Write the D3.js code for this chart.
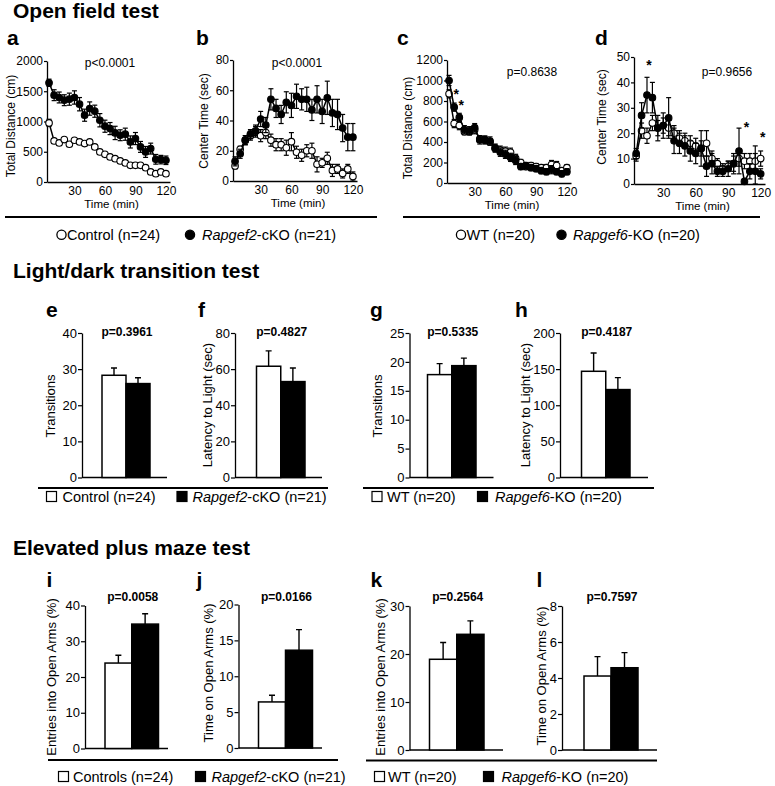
<!DOCTYPE html>
<html>
<head>
<meta charset="utf-8">
<script src="https://cdn.jsdelivr.net/npm/d3@7"></script>
<style>
body { margin: 0; background: #fff; }
svg text { font-family: "Liberation Sans", Arial, Helvetica, sans-serif; fill: #000; }
</style>
</head>
<body>
<svg id="fig" width="775" height="786"></svg>
<script>
// Time bins (min)
var timeBins = [5, 10, 15, 20, 25, 30, 35, 40, 45, 50, 55, 60, 65, 70, 75, 80, 85, 90, 95, 100, 105, 110, 115, 120];

// a - total distance, Rapgef2
var distCtrl    = [977, 679, 646, 701, 624, 690, 662, 635, 662, 580, 497, 458, 414, 386, 348, 315, 276, 276, 276, 237, 166, 138, 166, 138];
var distCtrlErr = [60, 30, 30, 30, 30, 30, 40, 30, 30, 30, 30, 30, 30, 30, 30, 30, 30, 30, 30, 30, 30, 30, 30, 30];
var distCko     = [1640, 1435, 1397, 1352, 1369, 1397, 1286, 1104, 1214, 1170, 1021, 922, 883, 811, 773, 790, 662, 718, 580, 497, 552, 375, 370, 359];
var distCkoErr  = [60, 90, 90, 90, 100, 110, 110, 100, 110, 100, 110, 100, 100, 110, 90, 100, 100, 100, 90, 90, 90, 80, 70, 70];

// b - center time, Rapgef2
var ctrCtrl    = [10, 21, 27, 30, 33, 30, 32, 27, 24, 24, 22, 26, 19, 17, 20, 20, 11, 12, 15, 7, 8, 5, 8, 3];
var ctrCtrlErr = [2, 2, 3, 3, 3, 4, 4, 4, 4, 4, 5, 6, 4, 4, 4, 5, 5, 3, 4, 4, 3, 3, 3, 3];
var ctrCko     = [13, 18, 27, 31, 33, 41, 37, 54, 48, 44, 52, 50, 56, 54, 54, 47, 54, 46, 55, 45, 44, 35, 29, 29];
var ctrCkoErr  = [3, 3, 3, 3, 4, 5, 5, 7, 6, 6, 7, 8, 8, 7, 8, 7, 9, 8, 11, 9, 10, 9, 9, 9];

// c - total distance, Rapgef6
var distWt     = [870, 580, 560, 500, 500, 520, 430, 420, 400, 340, 320, 310, 300, 240, 200, 160, 170, 160, 150, 150, 180, 170, 120, 150];
var distWtErr  = [40, 40, 40, 30, 30, 40, 30, 30, 30, 30, 40, 40, 40, 40, 30, 30, 30, 30, 30, 30, 40, 40, 30, 30];
var distKo     = [1000, 740, 640, 520, 510, 540, 420, 420, 410, 340, 300, 280, 250, 220, 160, 170, 150, 140, 120, 110, 130, 110, 90, 110];
var distKoErr  = [50, 40, 40, 40, 40, 40, 40, 40, 40, 40, 40, 40, 40, 40, 30, 30, 30, 30, 30, 30, 40, 30, 30, 30];

// d - center time, Rapgef6
var ctrWt     = [11, 21, 19, 24, 22, 23, 22, 20, 18, 17, 16, 15, 14, 16, 10, 8, 6, 7, 8, 10, 9, 9, 9, 10];
var ctrWtErr  = [2, 3, 3, 3, 3, 3, 3, 3, 3, 3, 3, 3, 3, 5, 3, 2, 2, 2, 3, 3, 3, 3, 3, 3];
var ctrKo     = [12, 27, 35, 34, 22, 23, 26, 17, 16, 15, 13, 12, 14, 7, 8, 5, 5, 6, 8, 13, 1, 5, 5, 4];
var ctrKoErr  = [2, 5, 7, 6, 5, 5, 8, 5, 4, 4, 4, 4, 7, 4, 4, 2, 2, 3, 4, 9, 1, 3, 10, 2];

// significance stars [time, value]
var starsC = [[10, 900], [15, 790]];
var starsD = [[15, 48], [105, 23.5], [120, 19.5]];

// bar panels: [control/WT, cKO/KO]
var transF2 = [28.3, 26.0],   transF2Err = [2.0, 1.6];
var latF2 = [61.6, 53.1],     latF2Err = [8.5, 7.5];
var transF6 = [17.8, 19.35],  transF6Err = [1.9, 1.3];
var latF6 = [147, 121.7],     latF6Err = [25.4, 16.5];
var entF2 = [23.9, 34.8],     entF2Err = [2.2, 2.9];
var timeF2 = [6.42, 13.63],   timeF2Err = [0.93, 2.87];
var entF6 = [18.9, 24.1],     entF6Err = [3.5, 2.8];
var timeF6 = [4.11, 4.57],    timeF6Err = [1.08, 0.84];

var xTicks = [30, 60, 90, 120];
var pValues = ["p<0.0001", "p<0.0001", "p=0.8638", "p=0.9656",
               "p=0.3961", "p=0.4827", "p=0.5335", "p=0.4187",
               "p=0.0058", "p=0.0166", "p=0.2564", "p=0.7597"];
var sectionTitles = ["Open field test", "Light/dark transition test", "Elevated plus maze test"];

var svg = d3.select("#fig");
var fontFam = '"Liberation Sans", Arial, Helvetica, sans-serif';

function styleAxis(ax, size) {
	ax.attr("font-size", size).attr("font-family", fontFam);
	ax.select(".domain").attr("stroke-width", 1.3);
	ax.selectAll(".tick line").attr("stroke-width", 1.2);
}

function yTitle(txt, cx, cy, size) {
	svg.append("text")
		.attr("transform", "translate(" + (cx + size * 0.36) + "," + cy + ") rotate(-90)")
		.attr("text-anchor", "middle")
		.attr("font-size", size)
		.text(txt);
}

function letter(txt, x, y) {
	svg.append("text").attr("x", x).attr("y", y)
		.attr("font-size", 21).attr("font-weight", "bold").text(txt);
}

// Line panel (open field)
function linePanel(c) {
	var x = d3.scaleLinear().domain([3, 124]).range([c.left, c.right]);
	var y = d3.scaleLinear().domain([0, c.yMax]).range([c.bottom, c.top]);
	var g = svg.append("g");

	var xAxisG = g.append("g").attr("transform", "translate(0," + c.bottom + ")")
		.call(d3.axisBottom(x).tickValues(xTicks).tickSize(0).tickSizeOuter(0).tickPadding(4));
	var yAxisG = g.append("g").attr("transform", "translate(" + c.left + ",0)")
		.call(d3.axisLeft(y).tickValues(c.yTicks).tickFormat(d3.format("d")).tickSize(3).tickSizeOuter(0).tickPadding(1));
	styleAxis(xAxisG, 12);
	styleAxis(yAxisG, 12);

	var series = [
		{ v: c.open, e: c.openErr, fill: "#fff" },
		{ v: c.closed, e: c.closedErr, fill: "#000" }
	];
	series.forEach(function(s) {
		var pts = timeBins.map(function(t, i) { return { t: t, v: s.v[i], e: s.e[i] }; });
		var eb = g.append("g").attr("stroke", "#000").attr("stroke-width", 1.2);
		eb.selectAll(".v").data(pts).enter().append("line")
			.attr("x1", function(d) { return x(d.t); })
			.attr("x2", function(d) { return x(d.t); })
			.attr("y1", function(d) { return y(Math.max(0, d.v - d.e)); })
			.attr("y2", function(d) { return y(d.v + d.e); });
		eb.selectAll(".ct").data(pts).enter().append("line")
			.attr("x1", function(d) { return x(d.t) - 2.5; })
			.attr("x2", function(d) { return x(d.t) + 2.5; })
			.attr("y1", function(d) { return y(d.v + d.e); })
			.attr("y2", function(d) { return y(d.v + d.e); });
		eb.selectAll(".cb").data(pts).enter().append("line")
			.attr("x1", function(d) { return x(d.t) - 2.5; })
			.attr("x2", function(d) { return x(d.t) + 2.5; })
			.attr("y1", function(d) { return y(Math.max(0, d.v - d.e)); })
			.attr("y2", function(d) { return y(Math.max(0, d.v - d.e)); });
		g.append("path").datum(pts)
			.attr("fill", "none").attr("stroke", "#000").attr("stroke-width", 1.5)
			.attr("d", d3.line().x(function(d) { return x(d.t); }).y(function(d) { return y(d.v); }));
		g.append("g").selectAll("circle").data(pts).enter().append("circle")
			.attr("cx", function(d) { return x(d.t); })
			.attr("cy", function(d) { return y(d.v); })
			.attr("r", 3.3)
			.attr("fill", s.fill).attr("stroke", "#000").attr("stroke-width", 1.1);
	});

	(c.stars || []).forEach(function(st) {
		g.append("text").attr("x", x(st[0]) + 2).attr("y", y(st[1]) + 8)
			.attr("text-anchor", "middle").attr("font-size", 14).attr("font-weight", "bold").text("*");
	});

	g.append("text").attr("x", c.pX).attr("y", c.pY).attr("text-anchor", "middle")
		.attr("font-size", 12).text(c.p);
	g.append("text").attr("x", (c.left + c.right) / 2 + 3).attr("y", c.bottom + 26).attr("text-anchor", "middle")
		.attr("font-size", 11.5).text("Time (min)");
	yTitle(c.yLabel, c.yLabelX, c.yLabelY, 12);
}

// Bar panel
function barPanel(c) {
	var y = d3.scaleLinear().domain([0, c.yMax]).range([c.bottom, c.top]);
	var xb = d3.scaleBand().domain([0, 1]).range([c.barL, c.barR]).paddingInner(0).paddingOuter(0);
	var g = svg.append("g");

	var yAxisG = g.append("g").attr("transform", "translate(" + c.left + ",0)")
		.call(d3.axisLeft(y).tickValues(c.yTicks).tickSize(4).tickSizeOuter(0).tickPadding(1));
	styleAxis(yAxisG, 13);
	g.append("line").attr("x1", c.left).attr("x2", c.right)
		.attr("y1", y(0)).attr("y2", y(0))
		.attr("stroke", "#000").attr("stroke-width", 1.3);

	var bars = c.vals.map(function(v, i) { return { i: i, v: v, e: c.errs[i] }; });
	g.selectAll(".err").data(bars).enter().append("path")
		.attr("fill", "none").attr("stroke", "#000").attr("stroke-width", 1.4)
		.attr("d", function(d) {
			var cx = xb(d.i) + xb.bandwidth() / 2;
			return "M" + cx + "," + y(d.v) + "V" + y(d.v + d.e) + "M" + (cx - 3) + "," + y(d.v + d.e) + "H" + (cx + 3);
		});
	g.selectAll("rect").data(bars).enter().append("rect")
		.attr("x", function(d) { return xb(d.i); })
		.attr("y", function(d) { return y(d.v); })
		.attr("width", xb.bandwidth())
		.attr("height", function(d) { return y(0) - y(d.v); })
		.attr("fill", function(d) { return d.i === 0 ? "#fff" : "#000"; })
		.attr("stroke", "#000").attr("stroke-width", 1.5);

	g.append("text").attr("x", (c.barL + c.barR) / 2 + 1).attr("y", c.pY).attr("text-anchor", "middle")
		.attr("font-size", 12).attr("font-weight", "bold").text(c.p);
	yTitle(c.yLabel, c.yLabelX, c.yLabelY, 13);
}

// Legends
function legend(items, baseline, shape) {
	items.forEach(function(it) {
		if (shape === "circle") {
			svg.append("circle").attr("cx", it.mx).attr("cy", baseline - 5.2).attr("r", 4.6)
				.attr("fill", it.fill).attr("stroke", "#000").attr("stroke-width", 1.3);
		} else {
			svg.append("rect").attr("x", it.mx).attr("y", baseline - 10.5).attr("width", 10).attr("height", 10)
				.attr("fill", it.fill).attr("stroke", "#000").attr("stroke-width", 1.2);
		}
		var t = svg.append("text").attr("x", it.tx).attr("y", baseline).attr("font-size", 14.5);
		if (it.gene) t.append("tspan").attr("font-style", "italic").text(it.gene);
		t.append("tspan").text(it.rest);
	});
}

function rule(x1, x2, yy) {
	svg.append("line").attr("x1", x1).attr("x2", x2).attr("y1", yy).attr("y2", yy)
		.attr("stroke", "#000").attr("stroke-width", 2);
}

// Section titles
[[18, 0], [278, 1], [555, 2]].forEach(function(s) {
	svg.append("text").attr("x", 13).attr("y", s[0]).attr("font-size", 21)
		.attr("font-weight", "bold").text(sectionTitles[s[1]]);
});

// Row 1
letter("a", 7, 45); letter("b", 196, 45); letter("c", 397, 45); letter("d", 595, 45);
linePanel({ left: 47, right: 170, top: 61, bottom: 182, yMax: 2000, yTicks: [0, 500, 1000, 1500, 2000],
	open: distCtrl, openErr: distCtrlErr, closed: distCko, closedErr: distCkoErr,
	p: pValues[0], pX: 110, pY: 67, yLabel: "Total Distance (cm)", yLabelX: 11, yLabelY: 126 });
linePanel({ left: 233, right: 357, top: 60, bottom: 181, yMax: 80, yTicks: [0, 20, 40, 60, 80],
	open: ctrCtrl, openErr: ctrCtrlErr, closed: ctrCko, closedErr: ctrCkoErr,
	p: pValues[1], pX: 297, pY: 67, yLabel: "Center Time (sec)", yLabelX: 204, yLabelY: 121 });
linePanel({ left: 447, right: 571, top: 60, bottom: 183, yMax: 1200, yTicks: [0, 200, 400, 600, 800, 1000, 1200],
	open: distWt, openErr: distWtErr, closed: distKo, closedErr: distKoErr, stars: starsC,
	p: pValues[2], pX: 532, pY: 76, yLabel: "Total Distance (cm)", yLabelX: 408, yLabelY: 128 });
linePanel({ left: 634, right: 765, top: 57, bottom: 184, yMax: 50, yTicks: [0, 10, 20, 30, 40, 50],
	open: ctrWt, openErr: ctrWtErr, closed: ctrKo, closedErr: ctrKoErr, stars: starsD,
	p: pValues[3], pX: 727, pY: 76, yLabel: "Center Time (sec)", yLabelX: 602, yLabelY: 117 });
rule(5, 377, 217); rule(403, 760, 217);
legend([{ mx: 61.5, tx: 67, fill: "#fff", gene: "", rest: "Control (n=24)" },
        { mx: 190, tx: 202, fill: "#000", gene: "Rapgef2", rest: "-cKO (n=21)" }], 240, "circle");
legend([{ mx: 461, tx: 466.5, fill: "#fff", gene: "", rest: "WT (n=20)" },
        { mx: 561.5, tx: 573, fill: "#000", gene: "Rapgef6", rest: "-KO (n=20)" }], 240, "circle");

// Row 2
letter("e", 46, 317); letter("f", 198, 317); letter("g", 370, 317); letter("h", 515, 317);
barPanel({ left: 82, right: 167, barL: 102, barR: 150, top: 333, bottom: 477.5, yMax: 40, yTicks: [0, 10, 20, 30, 40],
	vals: transF2, errs: transF2Err, p: pValues[4], pY: 336, yLabel: "Transitions", yLabelX: 50, yLabelY: 406 });
barPanel({ left: 235, right: 322, barL: 256.5, barR: 305, top: 333, bottom: 477.5, yMax: 80, yTicks: [0, 20, 40, 60, 80],
	vals: latF2, errs: latF2Err, p: pValues[5], pY: 336, yLabel: "Latency to Light (sec)", yLabelX: 207, yLabelY: 405 });
barPanel({ left: 409.5, right: 493.5, barL: 427.5, barR: 476, top: 333, bottom: 477.5, yMax: 25, yTicks: [0, 5, 10, 15, 20, 25],
	vals: transF6, errs: transF6Err, p: pValues[6], pY: 336, yLabel: "Transitions", yLabelX: 377, yLabelY: 406 });
barPanel({ left: 560, right: 648, barL: 581.5, barR: 630, top: 333, bottom: 477.5, yMax: 200, yTicks: [0, 50, 100, 150, 200],
	vals: latF6, errs: latF6Err, p: pValues[7], pY: 336, yLabel: "Latency to Light (sec)", yLabelX: 525, yLabelY: 405 });
rule(38, 328, 488); rule(363, 654, 488);
legend([{ mx: 46.5, tx: 62.5, fill: "#fff", gene: "", rest: "Control (n=24)" },
        { mx: 177, tx: 192.5, fill: "#000", gene: "Rapgef2", rest: "-cKO (n=21)" }], 502, "square");
legend([{ mx: 372, tx: 387, fill: "#fff", gene: "", rest: "WT (n=20)" },
        { mx: 477.5, tx: 495, fill: "#000", gene: "Rapgef6", rest: "-KO (n=20)" }], 502, "square");

// Row 3
letter("i", 46.5, 587); letter("j", 196.5, 587); letter("k", 370.5, 587); letter("l", 536.5, 587);
barPanel({ left: 85, right: 168, barL: 105, barR: 158.5, top: 605.5, bottom: 748.5, yMax: 40, yTicks: [0, 10, 20, 30, 40],
	vals: entF2, errs: entF2Err, p: pValues[8], pY: 601, yLabel: "Entries into Open Arms (%)", yLabelX: 51.5, yLabelY: 677 });
barPanel({ left: 238.5, right: 322, barL: 258.5, barR: 312.5, top: 604.5, bottom: 748, yMax: 20, yTicks: [0, 5, 10, 15, 20],
	vals: timeF2, errs: timeF2Err, p: pValues[9], pY: 601, yLabel: "Time on Open Arms (%)", yLabelX: 208, yLabelY: 673 });
barPanel({ left: 409.5, right: 503, barL: 429.5, barR: 484, top: 606, bottom: 750, yMax: 30, yTicks: [0, 10, 20, 30],
	vals: entF6, errs: entF6Err, p: pValues[10], pY: 601, yLabel: "Entries into Open Arms (%)", yLabelX: 380, yLabelY: 677 });
barPanel({ left: 562, right: 657, barL: 584, barR: 638, top: 606, bottom: 750, yMax: 8, yTicks: [0, 2, 4, 6, 8],
	vals: timeF6, errs: timeF6Err, p: pValues[11], pY: 601, yLabel: "Time on Open Arms (%)", yLabelX: 541.5, yLabelY: 676 });
rule(48, 338, 760); rule(366, 657, 760.5);
legend([{ mx: 58.5, tx: 73, fill: "#fff", gene: "", rest: "Controls (n=24)" },
        { mx: 195.5, tx: 211.5, fill: "#000", gene: "Rapgef2", rest: "-cKO (n=21)" }], 782, "square");
legend([{ mx: 374.5, tx: 388, fill: "#fff", gene: "", rest: "WT (n=20)" },
        { mx: 483.5, tx: 501.5, fill: "#000", gene: "Rapgef6", rest: "-KO (n=20)" }], 782, "square");
</script>
</body>
</html>
